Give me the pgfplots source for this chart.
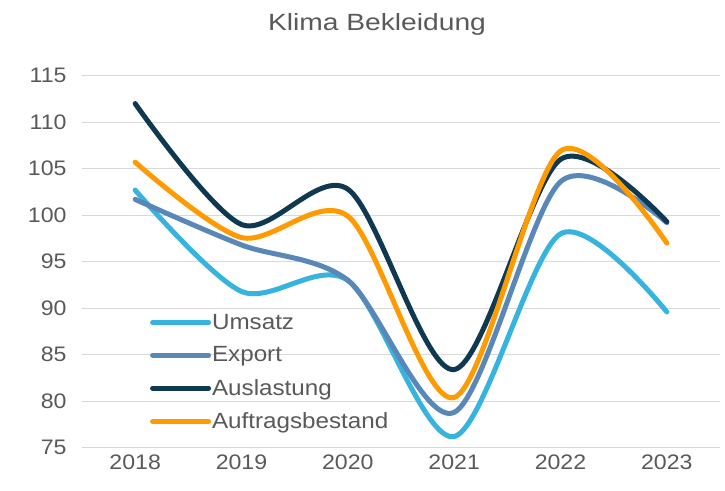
\documentclass[border=0pt]{standalone}
\usepackage{fontspec}
\setmainfont{Liberation Sans}[FakeStretch=1.1]
\newfontfamily\titlefont{Liberation Sans}[FakeStretch=1.2]
\usepackage{pgfplots}
\pgfplotsset{compat=1.18}
\definecolor{cUms}{HTML}{36B3DE}
\definecolor{cExp}{HTML}{5887B8}
\definecolor{cAus}{HTML}{0F3950}
\definecolor{cAuf}{HTML}{FF9A00}
\definecolor{cGrid}{HTML}{D9D9D9}
\definecolor{cText}{HTML}{595959}
\begin{document}
\begin{tikzpicture}
\useasboundingbox (0pt,0pt) rectangle (725pt,490pt);
\node[text=cText, font=\titlefont\fontsize{23.5}{26}\selectfont] at (377pt,466pt) {Klima Bekleidung};
\begin{axis}[
  at={(82pt,42.3pt)}, anchor=south west,
  scale only axis, width=638pt, height=372pt,
  xmin=2017.5, xmax=2023.5, ymin=75, ymax=115,
  xtick={2018,2019,2020,2021,2022,2023},
  ytick={75,80,85,90,95,100,105,110,115},
  xticklabel style={/pgf/number format/1000 sep={}},
  /pgf/number format/assume math mode=true,
  tick label style={font=\fontsize{21}{24}\selectfont, text=cText},
  ymajorgrids, grid style={cGrid, line width=1.3pt},
  axis line style={draw=none},
  tick style={draw=none},
  xticklabel style={yshift=-4pt},
  yticklabel style={xshift=-12pt},
  legend style={at={(axis cs:2018.11,89.7)}, anchor=north west, draw=none, fill=none,
    font=\fontsize{22}{24}\selectfont, text=cText,
    row sep=14pt,
    nodes={inner sep=1pt},
    /tikz/every even column/.append style={column sep=0pt}},
  legend cell align=left,
  legend image code/.code={\draw[#1, line cap=round] (0pt,0pt) -- (56pt,0pt);},
  every axis plot/.append style={line width=5pt, smooth, line cap=round},
]
\addplot[cUms] coordinates {(2018,102.7) (2019,91.8) (2020,93.0) (2021,76.2) (2022,98.0) (2023,89.6)};
\addplot[cExp] coordinates {(2018,101.7) (2019,96.8) (2020,93.0) (2021,78.8) (2022,103.6) (2023,99.2)};
\addplot[cAus] coordinates {(2018,112.0) (2019,99.0) (2020,102.8) (2021,83.4) (2022,106.0) (2023,99.3)};
\addplot[cAuf] coordinates {(2018,105.7) (2019,97.6) (2020,99.9) (2021,80.4) (2022,106.9) (2023,97.0)};
\legend{Umsatz, Export, Auslastung, Auftragsbestand}
\end{axis}
\end{tikzpicture}
\end{document}
